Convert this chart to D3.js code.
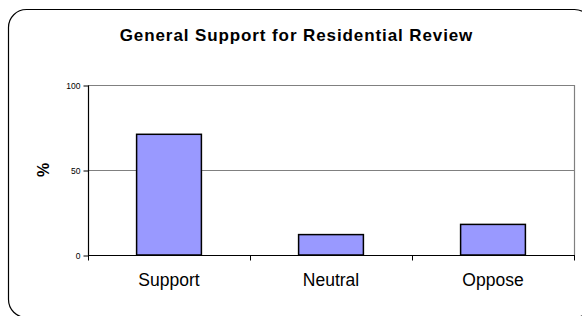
<!DOCTYPE html>
<html><head><meta charset="utf-8">
<script src="https://cdn.jsdelivr.net/npm/d3@7"></script>
<style>html,body{margin:0;padding:0;background:#fff;}svg{display:block;}</style>
</head><body>
<svg id="c" width="582" height="316"></svg>
<script>
const categories = ["Support", "Neutral", "Oppose"];
const values = [71, 12, 18];
const yTicks = [0, 50, 100];
const title = "General Support for Residential Review";
const yLabel = "%";

const svg = d3.select("#c");
const font = "'Liberation Sans', Arial, sans-serif";
const W = 582, H = 316;
const m = {left: 88, right: 8, top: 85, bottom: 61};
const x0 = m.left, x1 = W - m.right, y0 = H - m.bottom, y1 = m.top;

// outer rounded frame
svg.append("rect").attr("x", 8.5).attr("y", 9.5).attr("width", 584).attr("height", 308)
  .attr("rx", 18).attr("ry", 18).attr("fill", "#fff").attr("stroke", "#000").attr("stroke-width", 1.2);

svg.append("text").attr("x", 296.5).attr("y", 41).attr("text-anchor", "middle")
  .attr("font-family", font).attr("font-weight", "bold").attr("font-size", 17)
  .attr("letter-spacing", 0.9).text(title);

const x = d3.scaleBand().domain(categories).range([x0, x1]).paddingInner(0.6).paddingOuter(0.3);
const y = d3.scaleLinear().domain([0, 100]).range([y0, y1]);

// gridlines
svg.append("g").selectAll("line").data(yTicks.filter(d => d > 0)).join("line")
  .attr("x1", x0).attr("x2", x1).attr("y1", d => y(d) + 0.5).attr("y2", d => y(d) + 0.5)
  .attr("stroke", "#808080").attr("stroke-width", 1.2);
// right border
svg.append("line").attr("x1", x1 + 0.5).attr("x2", x1 + 0.5).attr("y1", y(100)).attr("y2", y0)
  .attr("stroke", "#808080").attr("stroke-width", 1.2);

// bars
svg.append("g").selectAll("rect").data(values).join("rect")
  .attr("x", (d, i) => x(categories[i])).attr("width", x.bandwidth())
  .attr("y", d => y(d)).attr("height", d => y0 - y(d))
  .attr("fill", "#9999FF").attr("stroke", "#000").attr("stroke-width", 1.5);

// y axis
const ya = d3.axisLeft(y).tickValues(yTicks).tickSize(5).tickPadding(3);
const gy = svg.append("g").attr("transform", `translate(${x0 + 0.5},0.5)`).call(ya);
gy.select(".domain").attr("stroke", "#000").attr("stroke-width", 1.2).attr("d", `M0,${y1}V${y0}`);
gy.selectAll(".tick line").attr("stroke", "#000");
gy.selectAll(".tick text").attr("font-family", font).attr("font-size", 8.5).attr("fill", "#000");

// x axis
const gx = svg.append("g").attr("transform", `translate(0,${y0 + 0.5})`);
gx.append("line").attr("x1", x0).attr("x2", x1 + 1).attr("stroke", "#000").attr("stroke-width", 1.2);
const bounds = categories.map(c => x(c) - x.step() * x.paddingInner() / 2).concat([x1]);
bounds[0] = x0;
gx.selectAll(".tk").data(bounds).join("line").attr("class", "tk")
  .attr("x1", d => d + 0.5).attr("x2", d => d + 0.5).attr("y1", 0).attr("y2", 5)
  .attr("stroke", "#000").attr("stroke-width", 1);
gx.selectAll("text").data(categories).join("text")
  .attr("x", d => x(d) + x.bandwidth() / 2).attr("y", 30)
  .attr("text-anchor", "middle").attr("font-family", font).attr("font-size", 17.5).text(d => d);

svg.append("text").attr("transform", `translate(49,${y(50)}) rotate(-90)`)
  .attr("text-anchor", "middle").attr("font-family", font).attr("font-weight", "bold")
  .attr("font-size", 16).text(yLabel);
</script>
</body></html>
